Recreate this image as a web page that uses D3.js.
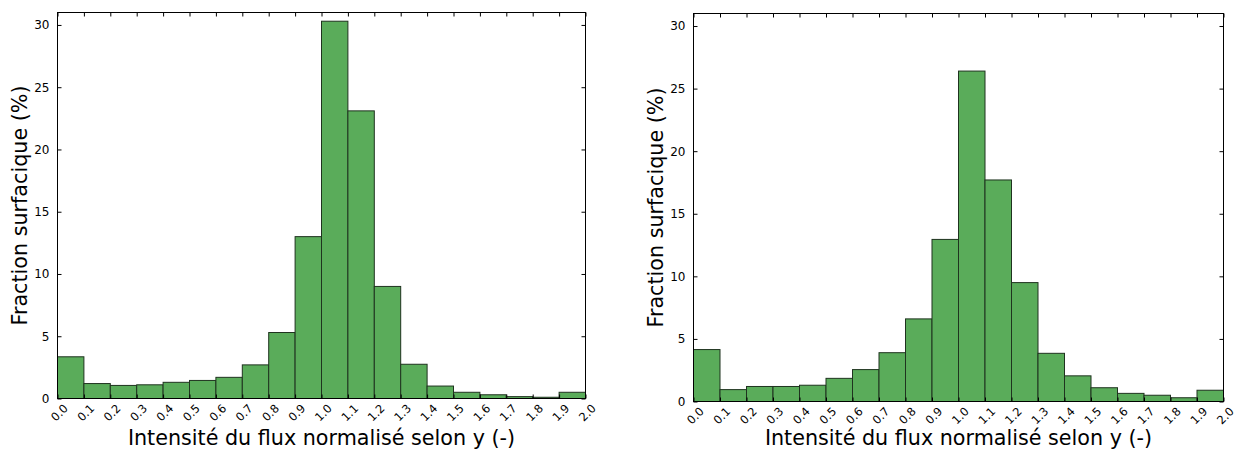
<!DOCTYPE html>
<html><head><meta charset="utf-8">
<script src="https://cdn.jsdelivr.net/npm/d3@7"></script>
<style>body{margin:0;background:#fff}svg{display:block}text{font-family:"DejaVu Sans",sans-serif}</style>
</head><body><svg id="c" width="1243" height="450"></svg>
<script>
const binStarts = [0.0,0.1,0.2,0.3,0.4,0.5,0.6,0.7,0.8,0.9,1.0,1.1,1.2,1.3,1.4,1.5,1.6,1.7,1.8,1.9];
const xTickLabels = ["0.0","0.1","0.2","0.3","0.4","0.5","0.6","0.7","0.8","0.9","1.0","1.1","1.2","1.3","1.4","1.5","1.6","1.7","1.8","1.9","2.0"];
const yTicks = [0,5,10,15,20,25,30];
const leftValues = [3.35,1.2,1.05,1.1,1.3,1.45,1.7,2.7,5.3,13.0,30.3,23.1,9.0,2.75,1.0,0.5,0.3,0.15,0.1,0.5];
const rightValues = [4.15,0.95,1.2,1.2,1.3,1.85,2.55,3.9,6.6,12.95,26.4,17.7,9.5,3.85,2.05,1.1,0.65,0.5,0.3,0.9];
const xLabel = "Intensité du flux normalisé selon y (-)";
const yLabel = "Fraction surfacique (%)";

const svg = d3.select("#c");
function panel(values, left, right, top, bottom, ylabX){
  const x = d3.scaleLinear().domain([0,2]).range([left,right]);
  const y = d3.scaleLinear().domain([0,31]).range([bottom,top]);
  const g = svg.append("g");
  g.selectAll("rect.bar").data(values).join("rect")
    .attr("x", (d,i)=>x(binStarts[i])).attr("width",(d,i)=>x(binStarts[i]+0.1)-x(binStarts[i]))
    .attr("y", d=>y(d)).attr("height", d=>y(0)-y(d))
    .attr("fill","#5aac5a").attr("stroke","#1f331f").attr("stroke-width",1);
  const tv = xTickLabels.map(Number);
  const ax = d3.axisBottom(x).tickValues(tv).tickFormat((d,i)=>xTickLabels[i]).tickSizeInner(-4).tickSizeOuter(0).tickPadding(8);
  const gx = g.append("g").attr("transform",`translate(0,${bottom})`).call(ax);
  gx.select(".domain").remove();
  gx.selectAll("text").attr("font-size",11.5).attr("text-anchor","end")
    .attr("dy","0.3em").attr("transform","translate(4,4) rotate(-45)").attr("y",6).attr("x",0);
  const gt = g.append("g").attr("transform",`translate(0,${top})`).call(d3.axisTop(x).tickValues(tv).tickSizeInner(-4).tickSizeOuter(0).tickFormat(""));
  gt.select(".domain").remove();
  const gy = g.append("g").attr("transform",`translate(${left},0)`).call(d3.axisLeft(y).tickValues(yTicks).tickSizeInner(-4).tickSizeOuter(0).tickPadding(8));
  gy.select(".domain").remove();
  gy.selectAll("text").attr("font-size",12);
  const gr = g.append("g").attr("transform",`translate(${right},0)`).call(d3.axisRight(y).tickValues(yTicks).tickSizeInner(-4).tickSizeOuter(0).tickFormat(""));
  gr.select(".domain").remove();
  g.selectAll(".tick line").attr("stroke","#000");
  g.append("rect").attr("x",left).attr("y",top).attr("width",right-left).attr("height",bottom-top)
    .attr("fill","none").attr("stroke","#000").attr("stroke-width",1);
  g.append("text").attr("x",(left+right)/2).attr("y",445).attr("text-anchor","middle").attr("font-size",20.7).attr("fill","#000").text(xLabel);
  g.append("text").attr("transform",`translate(${ylabX},${(top+bottom)/2}) rotate(-90)`).attr("text-anchor","middle").attr("font-size",20.7).attr("fill","#000").text(yLabel);
}
panel(leftValues, 57.5, 585.5, 12.5, 398.5, 27);
panel(rightValues, 693.5, 1223.5, 13.5, 401.5, 663);
</script></body></html>
